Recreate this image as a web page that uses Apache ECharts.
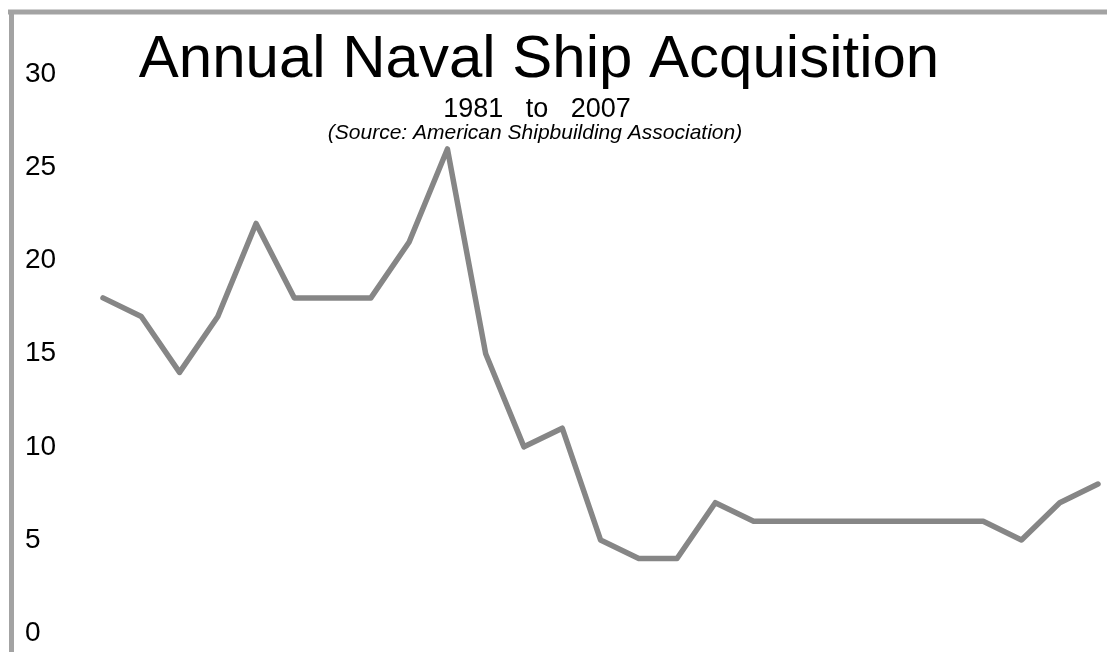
<!DOCTYPE html>
<html>
<head>
<meta charset="utf-8">
<script src="https://cdn.jsdelivr.net/npm/echarts@6/dist/echarts.min.js"></script>
<style>
html,body{margin:0;padding:0;background:#fff;}
#chart{width:1107px;height:652px;}
</style>
</head>
<body>
<div id="chart"></div>
<script>
const years = ['1981','1982','1983','1984','1985','1986','1987','1988','1989','1990','1991','1992','1993','1994','1995','1996','1997','1998','1999','2000','2001','2002','2003','2004','2005','2006','2007'];
const ships = [18,17,14,17,22,18,18,18,21,26,15,10,11,5,4,4,7,6,6,6,6,6,6,6,5,7,8];
const titleText = 'Annual Naval Ship Acquisition';
const subtitleText = '1981   to   2007';
const sourceText = '(Source: American Shipbuilding Association)';

const chart = echarts.init(document.getElementById('chart'));
const FONT = '"Liberation Sans", Arial, sans-serif';
chart.setOption({
  backgroundColor: '#ffffff',
  animation: false,
  grid: {left: 103, right: 9, top: 74.5, bottom: 19, containLabel: false},
  xAxis: {
    type: 'category', data: years, boundaryGap: false,
    axisLine: {show: false}, axisTick: {show: false}, axisLabel: {show: false}, splitLine: {show: false}
  },
  yAxis: {
    type: 'value', min: 0, max: 30, interval: 5,
    axisLine: {show: false}, axisTick: {show: false}, splitLine: {show: false},
    axisLabel: {align: 'left', margin: 78, color: '#000', fontSize: 28, fontFamily: FONT}
  },
  series: [{
    type: 'line', data: ships, showSymbol: false, symbol: 'none',
    lineStyle: {color: '#868686', width: 5.5, join: 'round', cap: 'round'}
  }],
  graphic: [
    {type: 'line', shape: {x1: 8, y1: 12, x2: 1107, y2: 12}, style: {stroke: '#a3a3a3', lineWidth: 5}, silent: true},
    {type: 'line', shape: {x1: 11.5, y1: 10, x2: 11.5, y2: 652}, style: {stroke: '#a3a3a3', lineWidth: 5}, silent: true},
    {type: 'text', x: 539, y: 60, style: {text: titleText, font: '60px ' + FONT, fill: '#000', textAlign: 'center', textVerticalAlign: 'middle'}},
    {type: 'text', x: 537, y: 110, style: {text: subtitleText, font: '27px ' + FONT, fill: '#000', textAlign: 'center', textVerticalAlign: 'middle'}},
    {type: 'text', x: 535, y: 133, style: {text: sourceText, font: 'italic 21px ' + FONT, fill: '#000', textAlign: 'center', textVerticalAlign: 'middle'}}
  ]
});
</script>
</body>
</html>
